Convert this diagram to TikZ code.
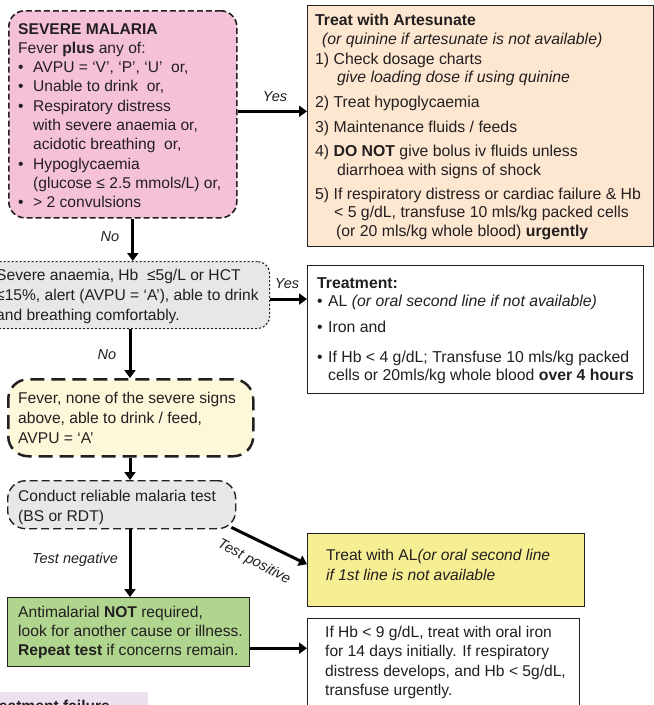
\documentclass[tikz,border=0pt]{standalone}
\usepackage{fontspec}
\setmainfont{Liberation Sans}
\usetikzlibrary{arrows.meta}
\definecolor{pinkF}{HTML}{F5C1D8}
\definecolor{peachF}{HTML}{FDE7D1}
\definecolor{greyF}{HTML}{E6E7E8}
\definecolor{lyelF}{HTML}{FEF8DA}
\definecolor{yelF}{HTML}{F6EE92}
\definecolor{greenF}{HTML}{AFD58F}
\definecolor{lavF}{HTML}{EDE1EF}
\definecolor{lineC}{HTML}{231F20}
\newcommand{\bul}{\makebox[15pt][l]{•}}
\newcommand{\bulb}{\makebox[11pt][l]{•}}
\newcommand{\ind}[1]{\hspace*{#1}}
\begin{document}
\begin{tikzpicture}[x=1pt,y=-1pt,
  box/.style={draw=lineC, line width=1.4pt, anchor=north west, inner sep=0pt},
  pinkbox/.style={box, fill=pinkF, line width=1.6pt, dash pattern=on 6pt off 3pt, rounded corners=16pt},
  peachbox/.style={box, fill=peachF},
  dotbox/.style={box, fill=greyF, line width=1.1pt, dash pattern=on 2pt off 2pt, rounded corners=12pt},
  lybox/.style={box, fill=lyelF, line width=2.5pt, dash pattern=on 14pt off 7pt, rounded corners=20pt},
  dashbox/.style={box, fill=greyF, dash pattern=on 8pt off 4pt, rounded corners=18pt},
  whitebox/.style={box, fill=white},
  yelbox/.style={box, fill=yelF},
  greenbox/.style={box, fill=greenF},
  lavbox/.style={fill=lavF, anchor=north west, inner sep=0pt},
  txt/.style={anchor=north west, inner sep=0pt, align=left, text=lineC},
  arr/.style={line width=3pt, -{Triangle[length=8pt,width=11pt]}},
  lbl/.style={inner sep=0pt, font=\fontsize{14.5}{16}\selectfont\itshape, text=lineC}
]
\useasboundingbox (0,0) rectangle (654,705);
\clip (0,0) rectangle (654,705);

% boxes
\node[pinkbox, minimum width=228pt, minimum height=207pt] (sev) at (8,10) {};
\node[peachbox, minimum width=346pt, minimum height=241pt] (art) at (307,5) {};
\node[dotbox, minimum width=283pt, minimum height=67pt] (anae) at (-14,261) {};
\node[whitebox, minimum width=336pt, minimum height=128pt] (tr) at (307,265) {};
\node[lybox, minimum width=245pt, minimum height=77pt] (fever) at (7,378) {};
\node[dashbox, minimum width=228pt, minimum height=48pt] (test) at (7,480) {};
\node[yelbox, minimum width=277pt, minimum height=73pt] (pos) at (307,533) {};
\node[greenbox, minimum width=242pt, minimum height=69pt] (neg) at (7,597) {};
\node[whitebox, minimum width=272pt, minimum height=110pt] (hb) at (307,618) {};
\node[lavbox, minimum width=153pt, minimum height=40pt] (fail) at (-5,692) {};

% texts
\node[txt, font=\fontsize{15.6}{19.3}\selectfont] (sevtxt) at (18,23) {%
\textbf{SEVERE MALARIA}\\
Fever \textbf{plus} any of:\\
\bul AVPU = ‘V’, ‘P’, ‘U’\ \ or,\\
\bul Unable to drink\ \ or,\\
\bul Respiratory distress\\
\ind{15pt}with severe anaemia or,\\
\ind{15pt}acidotic breathing\ \ or,\\
\bul Hypoglycaemia\\
\ind{15pt}(glucose ≤ 2.5 mmols/L) or,\\
\bul > 2 convulsions};

\node[txt, font=\fontsize{15.8}{18.5}\selectfont] (arttxt) at (315,14) {%
\textbf{Treat with Artesunate}\\
\ind{7pt}\textit{(or quinine if artesunate is not available)}\\[1.5pt]
1) Check dosage charts\\
\ind{22pt}\textit{give loading dose if using quinine}\\[6.5pt]
2) Treat hypoglycaemia\\[6.5pt]
3) Maintenance fluids / feeds\\[5.5pt]
4) \textbf{DO NOT} give bolus iv fluids unless\\
\ind{22pt}diarrhoea with signs of shock\\[5.5pt]
5) If respiratory distress or cardiac failure \& Hb\\
\ind{19pt}< 5 g/dL, transfuse 10 mls/kg packed cells\\
\ind{21pt}(or 20 mls/kg whole blood) \textbf{urgently}};

\node[txt, font=\fontsize{15.6}{20}\selectfont] (anaetxt) at (-4,269) {%
Severe anaemia, Hb\ \ ≤5g/L or HCT\\
≤15\%, alert (AVPU = ‘A’), able to drink\\
and breathing comfortably.};

\node[txt, font=\fontsize{15.8}{18}\selectfont] (trtxt) at (317,277) {%
\textbf{Treatment:}\\
\bulb AL \textit{(or oral second line if not available)}\\[8pt]
\bulb Iron and\\[12pt]
\bulb If Hb < 4 g/dL; Transfuse 10 mls/kg packed\\
\ind{11pt}cells or 20mls/kg whole blood \textbf{over 4 hours}};

\node[txt, font=\fontsize{15.6}{20}\selectfont] (fevertxt) at (18,392) {%
Fever, none of the severe signs\\
above, able to drink / feed,\\
AVPU = ‘A’};

\node[txt, font=\fontsize{15.6}{20}\selectfont] (testtxt) at (18,490) {%
Conduct reliable malaria test\\
(BS or RDT)};

\node[txt, font=\fontsize{15.6}{20}\selectfont] (postxt) at (326,549) {%
Treat with AL\textit{(or oral second line}\\
\textit{if 1st line is not available}};

\node[txt, font=\fontsize{15.6}{19}\selectfont] (negtxt) at (18,606) {%
Antimalarial \textbf{NOT} required,\\
look for another cause or illness.\\
\textbf{Repeat test} if concerns remain.};

\node[txt, font=\fontsize{15.6}{19.3}\selectfont] (hbtxt) at (325,626) {%
If Hb < 9 g/dL, treat with oral iron\\
for 14 days initially. If respiratory\\
distress develops, and Hb < 5g/dL,\\
transfuse urgently.};

\node[txt, font=\fontsize{15.6}{19}\selectfont\bfseries] (failtxt) at (-16,700) {Treatment failure};

% connectors
\coordinate (spine) at (130,0);
\draw[arr] ([yshift=3pt]sev.east) -- ([yshift=3pt]sev.east -| art.west);
\draw[arr] ([xshift=10pt]sev.south) -- ([xshift=10pt]sev.south |- anae.north);
\draw[arr] ([yshift=-4pt]anae.east) -- ([yshift=-4pt]anae.east -| tr.west);
\draw[arr] (spine |- anae.south) -- (spine |- fever.north);
\draw[arr] (spine |- fever.south) -- (spine |- test.north);
\draw[arr] (spine |- test.south) -- (spine |- neg.north);
\draw[arr] ([xshift=-5pt,yshift=2pt]test.south east) -- ([yshift=6pt]pos.west);
\draw[arr] ([yshift=-16pt]neg.east) -- ([yshift=-16pt]neg.east -| hb.west);

% labels
\node[lbl] (yes1) at (275,97) {Yes};
\node[lbl] (yes2) at (287,284) {Yes};
\node[lbl] (no1) at (110,237) {No};
\node[lbl] (no2) at (107,355) {No};
\node[lbl] (tneg) at (75,560) {Test negative};
\node[lbl, rotate=-28] (tpos) at (254,562) {Test positive};
\end{tikzpicture}
\end{document}
